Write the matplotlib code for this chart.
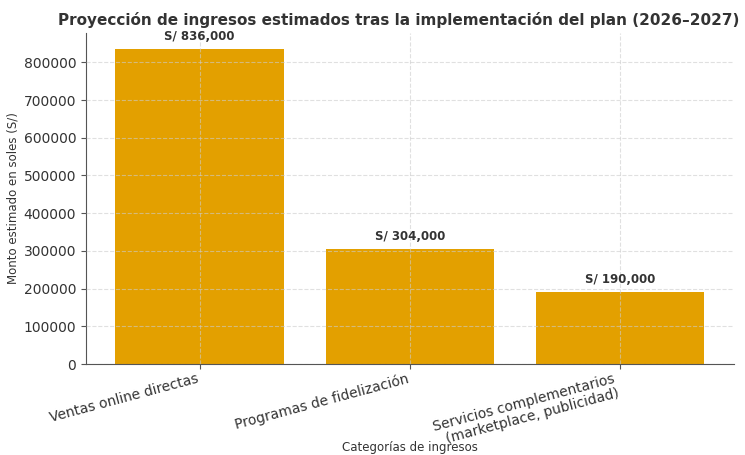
import matplotlib
matplotlib.use("Agg")
import matplotlib.pyplot as plt

categorias = ["Ventas online directas",
              "Programas de fidelización",
              "Servicios complementarios\n(marketplace, publicidad)"]
montos = [836000, 304000, 190000]
etiquetas = ["S/ 836,000", "S/ 304,000", "S/ 190,000"]

gris = "#333333"
plt.rcParams["text.color"] = gris
plt.rcParams["axes.labelcolor"] = gris
plt.rcParams["xtick.color"] = "#555555"
plt.rcParams["ytick.color"] = "#555555"
plt.rcParams["xtick.labelcolor"] = gris
plt.rcParams["ytick.labelcolor"] = gris

fig = plt.figure(figsize=(7.45, 4.55), dpi=100)
ax = fig.add_axes([0.1154, 0.2, 0.8696, 0.7275])

bars = ax.bar(categorias, montos, color="#E3A000", width=0.8)
ax.set_ylim(0, max(montos) * 1.05)

for b, txt in zip(bars, etiquetas):
    ax.text(b.get_x() + b.get_width() / 2, b.get_height() + 16000, txt,
            ha="center", va="bottom", fontsize=8.5, fontweight="bold")

ax.set_title("Proyección de ingresos estimados tras la implementación del plan (2026–2027)",
             fontsize=11, fontweight="bold", pad=6, x=0.482)
ax.set_ylabel("Monto estimado en soles (S/)", fontsize=8.5, labelpad=3)
ax.set_xlabel("Categorías de ingresos", fontsize=8.5)
ax.xaxis.set_label_coords(0.5, -0.234)
ax.tick_params(axis="both", labelsize=10)
ax.tick_params(axis="x", pad=2)
plt.setp(ax.get_xticklabels(), rotation=15, ha="right", linespacing=1.1)

# light grid drawn over the bars
ax.grid(True, linestyle="--", color="#cccccc", alpha=0.6, linewidth=0.8)
ax.set_axisbelow(False)
for s in ("left", "bottom"):
    ax.spines[s].set_color("#555555")
ax.spines["top"].set_visible(False)
ax.spines["right"].set_visible(False)

fig.savefig("out.png", dpi=100)
